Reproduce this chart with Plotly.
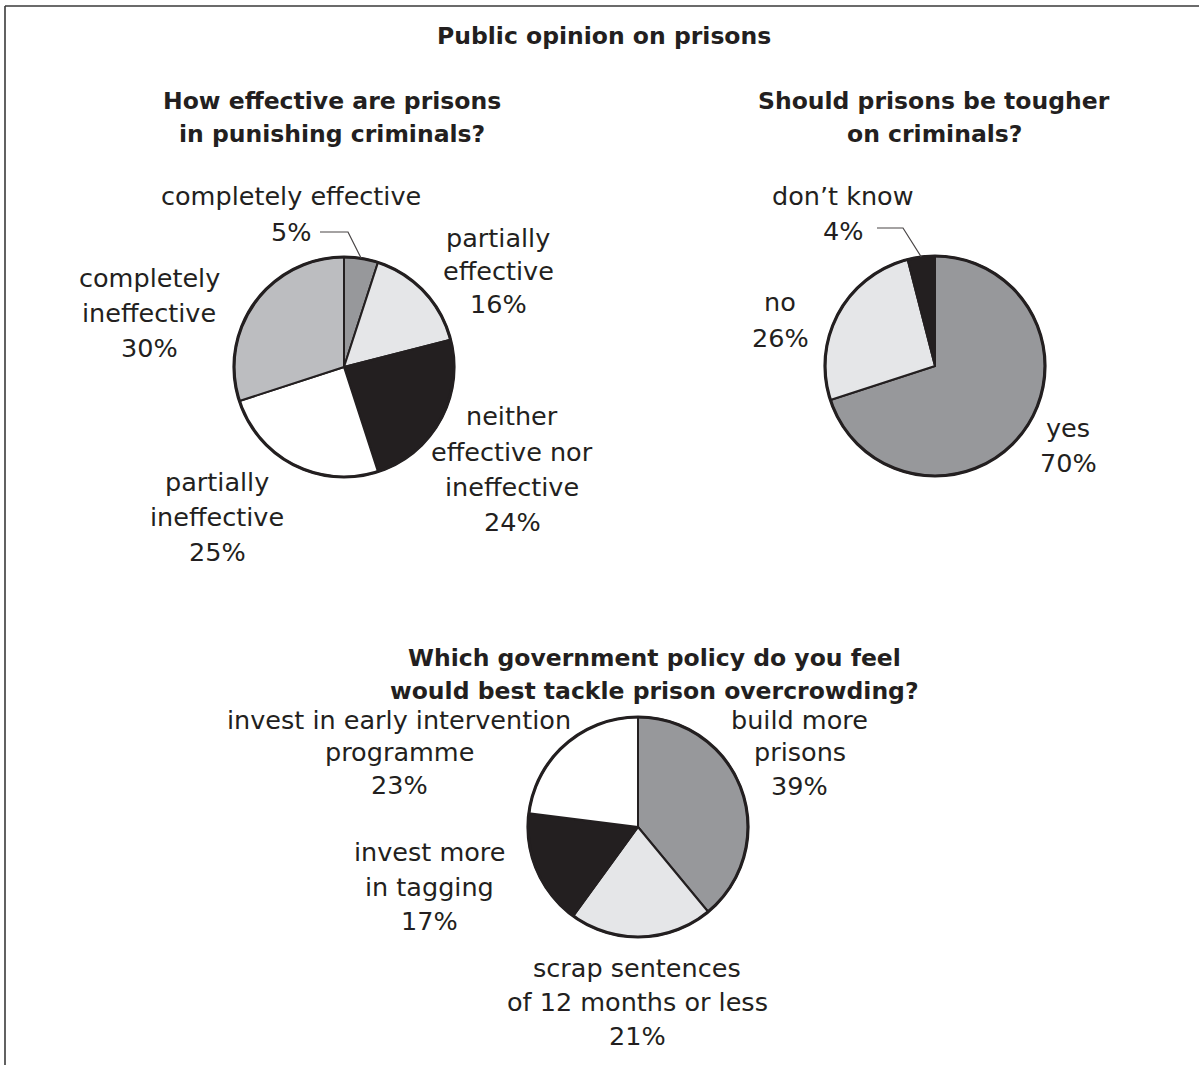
import math
import plotly.graph_objects as go

W, H = 1199, 1065

# ---------------- data ----------------
effect_labels = ["completely effective", "partially effective",
                 "neither effective nor ineffective", "partially ineffective",
                 "completely ineffective"]
effect_values = [5, 16, 24, 25, 30]

tough_labels = ["yes", "no", "don't know"]
tough_values = [70, 26, 4]

policy_labels = ["build more prisons", "scrap sentences of 12 months or less",
                 "invest more in tagging", "invest in early intervention programme"]
policy_values = [39, 21, 17, 23]

# ---------------- style ----------------
DARK = "#97989b"
LIGHT = "#e5e6e8"
MID = "#bcbdc0"
BLACK = "#231f20"
WHITE = "#ffffff"
TXT = "#231f20"
FONT = "DejaVu Sans"
FS = 25.5
BFS = 23.5

effect_colors = [DARK, LIGHT, BLACK, WHITE, MID]
tough_colors = [DARK, LIGHT, BLACK]
policy_colors = [DARK, LIGHT, BLACK, WHITE]

# pie geometry in pixels (center x, center y, radius)
P1 = (344, 367, 110)
P2 = (935, 366, 110)
P3 = (638, 827, 110)


def px(x):
    return x / W


def py(y):
    return 1 - y / H


fig = go.Figure()


def add_pie(labels, values, colors, geom, name):
    cx, cy, r = geom
    fig.add_trace(go.Pie(
        labels=labels, values=values, sort=False, direction="clockwise",
        rotation=0, textinfo="none", hoverinfo="label+percent", name=name,
        marker=dict(colors=colors, line=dict(color=BLACK, width=2)),
        domain=dict(x=[px(cx - r), px(cx + r)], y=[py(cy + r), py(cy - r)]),
        showlegend=False,
    ))
    fig.add_shape(type="circle", xref="paper", yref="paper",
                  xsizemode="pixel", ysizemode="pixel",
                  xanchor=px(cx), yanchor=py(cy),
                  x0=-r, x1=r, y0=-r, y1=r,
                  line=dict(color=BLACK, width=3.2), fillcolor="rgba(0,0,0,0)")


add_pie(effect_labels, effect_values, effect_colors, P1, "effect")
add_pie(tough_labels, tough_values, tough_colors, P2, "tough")
add_pie(policy_labels, policy_values, policy_colors, P3, "policy")

annotations = []


def text_block(lines, cx, ys, bold=False, size=FS):
    for line, y in zip(lines, ys):
        t = f"<b>{line}</b>" if bold else line
        annotations.append(dict(
            text=t, x=px(cx), y=py(y), xref="paper", yref="paper",
            xanchor="center", yanchor="middle", showarrow=False, borderpad=0,
            font=dict(family=FONT, size=size, color=TXT)))


def pct(v):
    return f"{v}%"


# titles
text_block(["Public opinion on prisons"], 604, [36], bold=True, size=BFS)
text_block(["How effective are prisons", "in punishing criminals?"], 332, [101, 134], bold=True, size=BFS)
text_block(["Should prisons be tougher", "on criminals?"], 934, [101, 134], bold=True, size=BFS)
text_block(["Which government policy do you feel",
            "would best tackle prison overcrowding?"], 654, [658, 691], bold=True, size=BFS)

# pie 1 labels
text_block(["completely effective", pct(effect_values[0])], 291, [196, 232])
text_block(["partially", "effective", pct(effect_values[1])], 498, [238, 271, 304])
text_block(["neither", "effective nor", "ineffective", pct(effect_values[2])], 512, [416, 452, 487, 522])
text_block(["partially", "ineffective", pct(effect_values[3])], 217, [482, 517, 552])
text_block(["completely", "ineffective", pct(effect_values[4])], 149, [278, 313, 348])

# pie 2 labels
text_block(["don\u2019t know", pct(tough_values[2])], 843, [196, 231])
text_block(["no", pct(tough_values[1])], 780, [302, 338])
text_block(["yes", pct(tough_values[0])], 1068, [428, 463])

# pie 3 labels
text_block(["build more", "prisons", pct(policy_values[0])], 800, [720, 752, 786])
text_block(["scrap sentences", "of 12 months or less", pct(policy_values[1])], 637, [968, 1002, 1036])
text_block(["invest more", "in tagging", pct(policy_values[2])], 429, [852, 887, 921])
text_block(["invest in early intervention", "programme", pct(policy_values[3])], 399, [720, 752, 785])


def slice_edge(values, idx, geom):
    cx, cy, r = geom
    tot = sum(values)
    start = sum(values[:idx])
    mid = (start + values[idx] / 2) / tot * 2 * math.pi
    return cx + r * math.sin(mid), cy - r * math.cos(mid)


def leader(x_start, x_bend, y_line, end):
    ex, ey = end
    path = (f"M {px(x_start)},{py(y_line)} L {px(x_bend)},{py(y_line)} "
            f"L {px(ex)},{py(ey)}")
    fig.add_shape(type="path", xref="paper", yref="paper", path=path,
                  line=dict(color="#4a4647", width=1.2))


leader(320, 348, 232, slice_edge(effect_values, 0, P1))
leader(877, 903, 228, slice_edge(tough_values, 2, P2))

# frame (top and left edges)
fig.add_shape(type="line", xref="paper", yref="paper", x0=px(5), x1=px(W + 5),
              y0=py(6), y1=py(6), line=dict(color="#3a3a3a", width=1.6))
fig.add_shape(type="line", xref="paper", yref="paper", x0=px(5), x1=px(5),
              y0=py(6), y1=py(H + 5), line=dict(color="#3a3a3a", width=1.6))

fig.update_layout(
    width=W, height=H, margin=dict(l=0, r=0, t=0, b=0),
    paper_bgcolor="white", plot_bgcolor="white",
    annotations=annotations, showlegend=False,
)

fig.write_html(
    "out.html",
    config={"displayModeBar": False},
    post_script="document.body.style.margin='0';document.body.style.overflow='hidden';",
)
